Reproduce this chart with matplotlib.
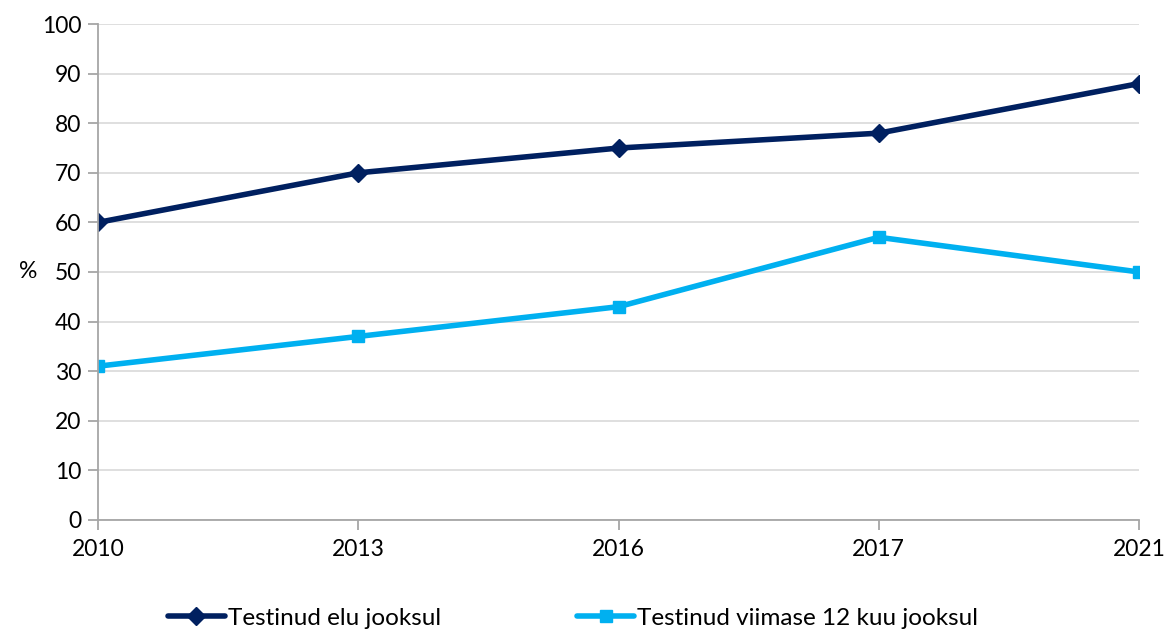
import matplotlib
matplotlib.use("Agg")
import matplotlib.pyplot as plt

years = ["2010", "2013", "2016", "2017", "2021"]
lifetime = [60, 70, 75, 78, 88]
last12 = [31, 37, 43, 57, 50]
labels = ["Testinud elu jooksul", "Testinud viimase 12 kuu jooksul"]
yticks = list(range(0, 101, 10))

plt.rcParams['font.family'] = ['Lato', 'DejaVu Sans']

fig = plt.figure(figsize=(11.67, 6.34), dpi=100)
ax = fig.add_axes([0.084, 0.180, 0.892, 0.782])
x = list(range(len(years)))
ax.plot(x, lifetime, color='#002060', lw=4, marker='D', ms=9, label=labels[0], solid_capstyle='round')
ax.plot(x, last12, color='#00B0F0', lw=4, marker='s', ms=9, label=labels[1], solid_capstyle='round')

ax.set_xlim(0, len(years) - 1)
ax.set_ylim(0, 100)
ax.set_xticks(x)
ax.set_xticklabels(years, fontsize=16.5)
ax.set_yticks(yticks)
ax.set_yticklabels([str(v) for v in yticks], fontsize=16.5)
ax.yaxis.grid(True, color='#D9D9D9', lw=1.2)
ax.set_axisbelow(True)
for s in ['top', 'right']:
    ax.spines[s].set_visible(False)
for s in ['left', 'bottom']:
    ax.spines[s].set_color('#A6A6A6')
    ax.spines[s].set_linewidth(1.3)
ax.tick_params(axis='x', length=7, color='#A6A6A6', width=1.3, pad=7)
ax.tick_params(axis='y', length=7, color='#A6A6A6', width=1.3, pad=5)
ax.set_ylabel('%', fontsize=16.5, rotation=0, va='center')
ax.yaxis.set_label_coords(-0.067, 0.5)

for t in ax.get_xticklabels():
    t.set_clip_on(False)

leg = fig.legend(loc='lower center', bbox_to_anchor=(0.491, -0.026), ncol=2, frameon=False,
                 fontsize=17.5, handlelength=2.35, columnspacing=5.6, handletextpad=0.12)
fig.savefig('out.png', dpi=100)
